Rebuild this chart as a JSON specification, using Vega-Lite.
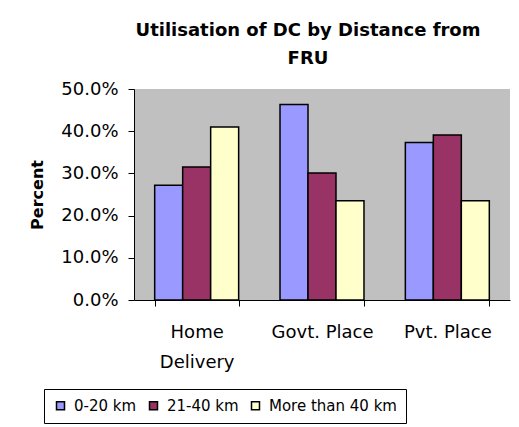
{
  "$schema": "https://vega.github.io/schema/vega-lite/v6.json",
  "width": 376,
  "height": 211,
  "autosize": {"type": "none"},
  "padding": {"left": 134, "top": 89, "right": 9, "bottom": 127},
  "background": "white",
  "title": {
    "text": ["Utilisation of DC by Distance from", "FRU"],
    "font": "DejaVu Sans",
    "fontSize": 18,
    "fontWeight": "bold",
    "color": "black",
    "anchor": "middle",
    "lineHeight": 28,
    "offset": 12,
    "dx": -14
  },
  "data": {
    "values": [
      {"place": "Home Delivery", "distance": "0-20 km", "pct": 0.272},
      {"place": "Home Delivery", "distance": "21-40 km", "pct": 0.315},
      {"place": "Home Delivery", "distance": "More than 40 km", "pct": 0.41},
      {"place": "Govt. Place", "distance": "0-20 km", "pct": 0.463},
      {"place": "Govt. Place", "distance": "21-40 km", "pct": 0.301},
      {"place": "Govt. Place", "distance": "More than 40 km", "pct": 0.235},
      {"place": "Pvt. Place", "distance": "0-20 km", "pct": 0.373},
      {"place": "Pvt. Place", "distance": "21-40 km", "pct": 0.391},
      {"place": "Pvt. Place", "distance": "More than 40 km", "pct": 0.235}
    ]
  },
  "mark": {"type": "bar", "stroke": "black", "strokeWidth": 1.5},
  "encoding": {
    "x": {
      "field": "place",
      "type": "nominal",
      "sort": ["Home Delivery", "Govt. Place", "Pvt. Place"],
      "scale": {"paddingInner": 0.33, "paddingOuter": 0.165},
      "axis": {
        "title": null,
        "labelAngle": 0,
        "labelExpr": "datum.value == 'Home Delivery' ? ['Home', 'Delivery'] : datum.value",
        "labelFont": "DejaVu Sans",
        "labelFontSize": 18,
        "labelColor": "black",
        "labelLineHeight": 30,
        "labelPadding": 17,
        "tickBand": "extent",
        "tickColor": "black",
        "tickSize": 6,
        "domainColor": "black",
        "domainWidth": 1
      }
    },
    "xOffset": {
      "field": "distance",
      "type": "nominal",
      "sort": ["0-20 km", "21-40 km", "More than 40 km"],
      "scale": {"paddingInner": 0, "paddingOuter": 0}
    },
    "y": {
      "field": "pct",
      "type": "quantitative",
      "scale": {"domain": [0, 0.5], "nice": false},
      "axis": {
        "title": "Percent",
        "titleFont": "DejaVu Sans",
        "titleFontSize": 16,
        "titleFontWeight": "bold",
        "titleColor": "black",
        "titlePadding": 15,
        "format": ".1%",
        "values": [0, 0.1, 0.2, 0.3, 0.4, 0.5],
        "labelFont": "DejaVu Sans",
        "labelFontSize": 18,
        "labelColor": "black",
        "labelPadding": 10,
        "tickColor": "black",
        "tickSize": 6,
        "domainColor": "black",
        "grid": false
      }
    },
    "fill": {
      "field": "distance",
      "type": "nominal",
      "sort": ["0-20 km", "21-40 km", "More than 40 km"],
      "scale": {"range": ["#9999FF", "#993366", "#FFFFCC"]},
      "legend": {
        "title": null,
        "orient": "none",
        "legendX": -90,
        "legendY": 300,
        "direction": "horizontal",
        "symbolType": "square",
        "symbolSize": 64,
        "symbolStrokeColor": "black",
        "symbolStrokeWidth": 1.5,
        "labelFont": "DejaVu Sans",
        "labelFontSize": 15,
        "labelColor": "black",
        "labelOffset": 6,
        "columnPadding": 9,
        "strokeColor": "black",
        "padding": 9,
        "fillColor": "white"
      }
    }
  },
  "config": {
    "view": {"fill": "#C0C0C0", "stroke": null}
  }
}
